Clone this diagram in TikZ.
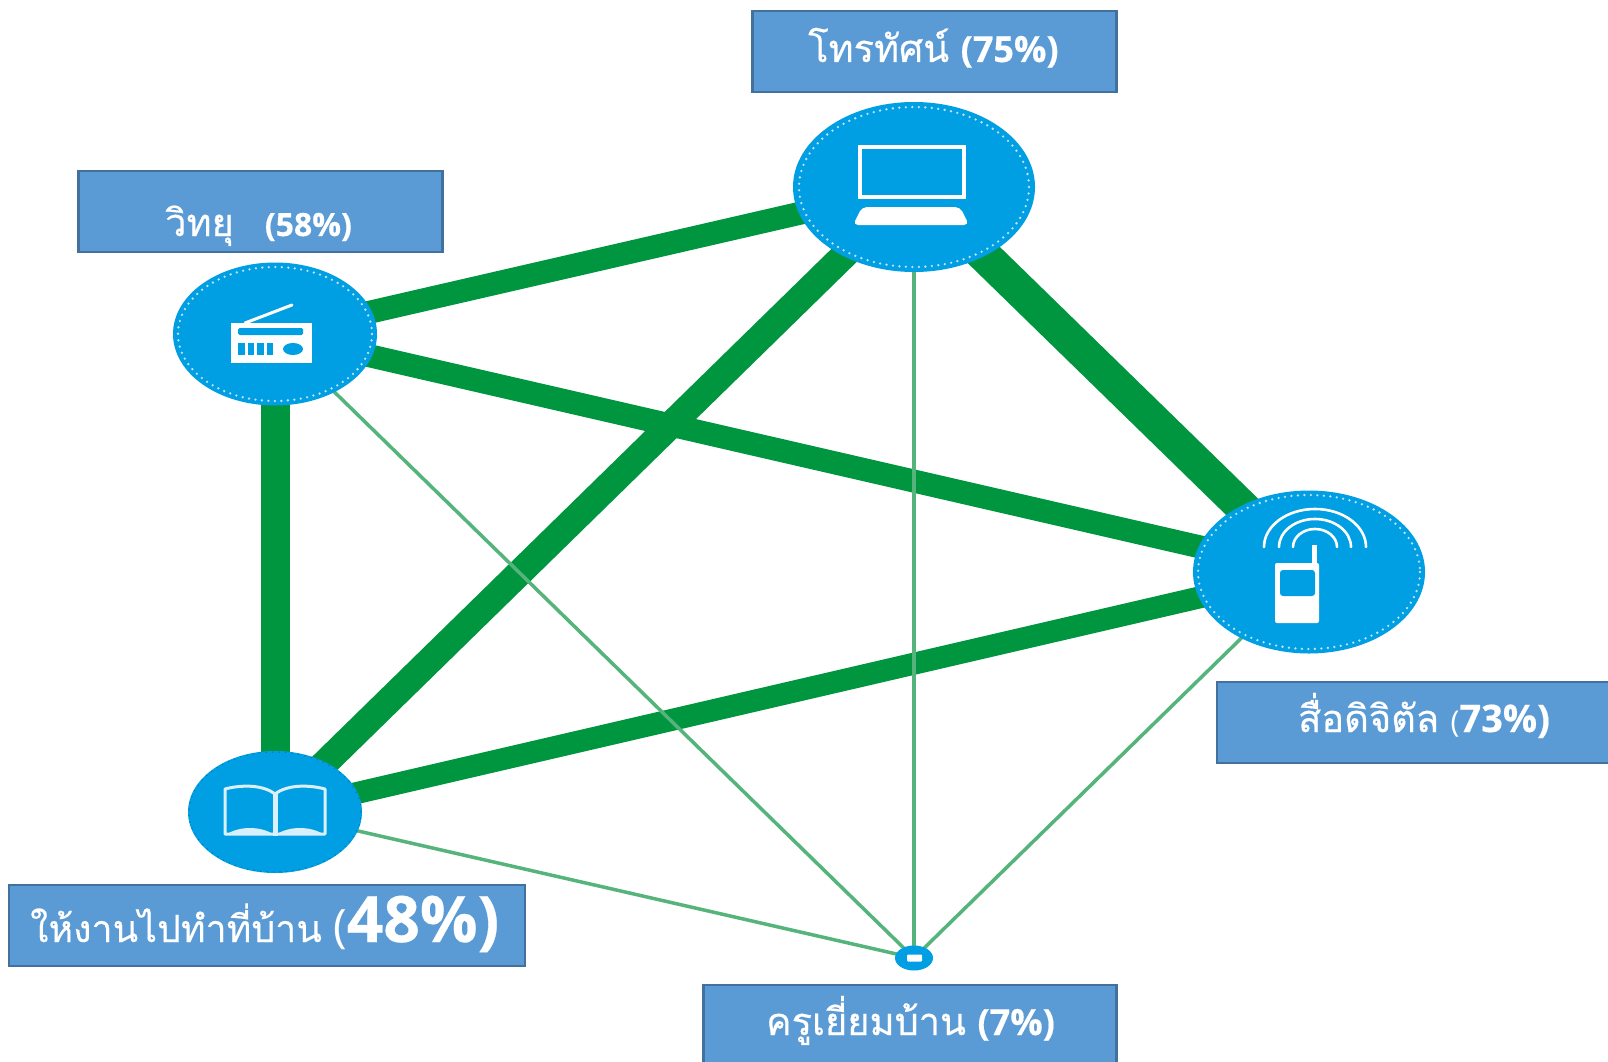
\documentclass[tikz,border=0pt]{standalone}
\usepackage{fontspec}
\usetikzlibrary{shapes.geometric,backgrounds}
\newfontfamily\thaifnt[Script=Thai,FakeBold=0.5]{Loma}
\newfontfamily\thailight[Script=Thai,FakeBold=0.2]{Loma}
\newfontfamily\latinfnt[BoldFeatures={FakeBold=0.4}]{Open Sans}
\definecolor{linkgreen}{HTML}{009640}
\definecolor{thingreen}{HTML}{55B47C}
\definecolor{discblue}{HTML}{009EE2}
\definecolor{boxblue}{HTML}{5B9BD5}
\definecolor{boxedge}{HTML}{41719C}
\definecolor{ringdot}{HTML}{BFE3F3}
\tikzset{
  x=1pt,y=-1pt,
  disc/.style={ellipse,fill=discblue,inner sep=0pt},
  labelbox/.style={rectangle,fill=boxblue,draw=boxedge,line width=2.4pt,inner sep=0pt,outer sep=0pt},
  labeltext/.style={anchor=base west,inner sep=0pt,text=white},
  link/.style={draw=linkgreen},
  thinlink/.style={draw=thingreen,line width=3.5pt},
  ring/.style={draw=ringdot,line width=2.6pt,line cap=round,dash pattern=on 0pt off 6.5pt},
  icon/.style={draw=white,line width=4.5pt},
  iconfill/.style={fill=white},
  iconcut/.style={fill=discblue},
  bookline/.style={draw=white!85!discblue,line width=3pt,line join=round}
}
\begin{document}
\begin{tikzpicture}
\useasboundingbox (0,0) rectangle (1608,1062);
% discs
\node[disc,minimum width=242pt,minimum height=170pt] (tv) at (914,187) {};
\node[disc,minimum width=204pt,minimum height=143pt] (radio) at (275,334) {};
\node[disc,minimum width=232pt,minimum height=163pt] (digital) at (1309,572) {};
\node[disc,minimum width=174pt,minimum height=122pt] (homework) at (275,812) {};
\node[disc,minimum width=38pt,minimum height=25pt] (teacher) at (914,958) {};
% connectors
\begin{scope}[on background layer]
\fill[white] (0,0) rectangle (1608,1062);
\draw[link,line width=23pt] (radio.center) -- (tv.center);
\draw[link,line width=23pt] (radio.center) -- (digital.center);
\draw[link,line width=29pt] (radio.center) -- (homework.center);
\draw[link,line width=27pt] (homework.center) -- (tv.center);
\draw[link,line width=22pt] (homework.center) -- (digital.center);
\draw[link,line width=34pt] (tv.center) -- (digital.center);
\draw[thinlink] (radio.center) -- (teacher.center);
\draw[thinlink] (homework.center) -- (teacher.center);
\draw[thinlink] (tv.center) -- (teacher.center);
\draw[thinlink] (digital.center) -- (teacher.center);
\end{scope}
% dotted rings
\draw[ring] (tv) ellipse [x radius=115,y radius=80];
\draw[ring] (radio) ellipse [x radius=97,y radius=67];
\draw[ring] (digital) ellipse [x radius=111,y radius=77];
\draw[ring,draw=discblue!75!black,line width=1.5pt] (homework) ellipse [x radius=86,y radius=60];
% laptop
\draw[icon,line join=miter] (860,147) rectangle (964,197);
\fill[iconfill,rounded corners=5pt] (862,207) -- (960,207) -- (969,225) -- (853,225) -- cycle;
% radio
\fill[iconfill] (231,323) rectangle (312,363);
\draw[draw=white,line width=3pt,line cap=round] (245,323) -- (292,305);
\fill[iconcut,rounded corners=1.5pt] (238,328) rectangle (303,335);
\foreach \barx in {238,247.5,257,266.5}{\fill[iconcut] (\barx,343) rectangle ++(6.5,12);}
\fill[iconcut] (293,349) ellipse [x radius=10,y radius=6];
% phone
\fill[iconfill,rounded corners=2pt] (1275,563) rectangle (1319,623);
\fill[iconcut,rounded corners=3pt] (1280,570) rectangle (1315,596);
\fill[iconfill] (1312,545) rectangle (1317,563);
\foreach \rx/\ry in {51/38,36/28,22/18}{
  \draw[draw=white,line width=2.6pt,line cap=round] (1315-\rx,547) arc [start angle=180,end angle=360,x radius=\rx,y radius=\ry];
}
% book
\draw[bookline] (275,794) .. controls (262,784) and (240,785) .. (225,789) -- (225,834) -- (325,834) -- (325,789) .. controls (310,785) and (288,784) .. (275,794) -- cycle;
\draw[bookline,line width=5pt] (275,794) -- (275,836);
\fill[white!85!discblue] (227,834) .. controls (240,826) and (260,826) .. (273,834) -- cycle;
\fill[white!85!discblue] (277,834) .. controls (290,826) and (310,826) .. (323,834) -- cycle;
% small icon
\fill[iconfill,rounded corners=1pt] (907,954.5) rectangle (922,961.5);
% label boxes
\node[labelbox,minimum width=364pt,minimum height=81pt] (tvbox) at (934.5,51.5) {};
\node[labelbox,minimum width=364pt,minimum height=81pt] (radiobox) at (260.5,211.5) {};
\node[labelbox,minimum width=423pt,minimum height=81pt] (digitalbox) at (1428.5,722.5) {};
\node[labelbox,minimum width=516pt,minimum height=81pt] (homeworkbox) at (267,925.5) {};
\node[labelbox,minimum width=413pt,minimum height=120pt] (teacherbox) at (910,1045) {};
% label texts
\node[labeltext,font=\fontsize{38}{44}\selectfont] (tvtext) at (808,62) {{\thaifnt โทรทัศน์} {\latinfnt\bfseries\fontsize{36}{42}\selectfont (75\%)}};
\node[labeltext,font=\fontsize{38}{44}\selectfont] (radiotext) at (165,236) {{\thaifnt วิทยุ}\hspace{31pt}{\latinfnt\bfseries\fontsize{32}{38}\selectfont (58\%)}};
\node[labeltext,font=\fontsize{38}{44}\selectfont] (digitaltext) at (1298,732) {{\thaifnt สื่อดิจิตัล} {\latinfnt\fontsize{30}{36}\selectfont (}{\latinfnt\bfseries 73\%)}};
\node[labeltext,font=\fontsize{37.5}{44}\selectfont] (homeworktext) at (30,942) {{\thailight ให้งานไปทำที่บ้าน} {\latinfnt\fontsize{46}{50}\selectfont (}{\latinfnt\bfseries\fontsize{64}{72}\selectfont 48\%)}};
\node[labeltext,font=\fontsize{38}{44}\selectfont] (teachertext) at (766,1035) {{\thaifnt ครูเยี่ยมบ้าน} {\latinfnt\bfseries\fontsize{36}{42}\selectfont (7\%)}};
\end{tikzpicture}
\end{document}
